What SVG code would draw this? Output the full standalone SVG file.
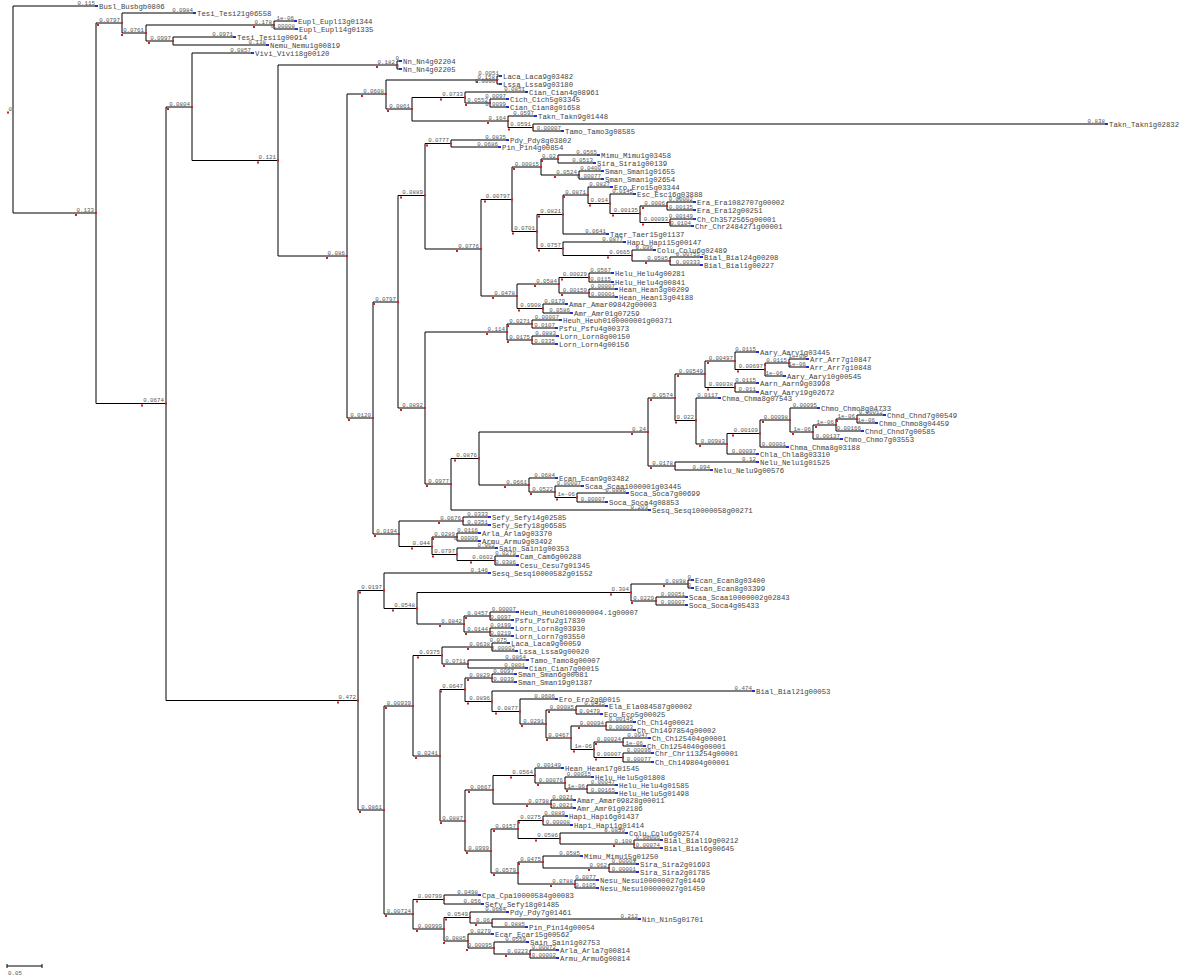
<svg xmlns="http://www.w3.org/2000/svg" width="1200" height="976" viewBox="0 0 1200 976">
<style>
.e{fill:none;stroke:#000;stroke-width:1}
.b{font-family:"Liberation Mono",monospace;font-size:5.8px;fill:#555;text-anchor:end}
.n{font-family:"Liberation Mono",monospace;font-size:7.3px;fill:#444}
.lf{fill:#1f2fd0}
.rd{fill:#d02020}
</style>
<rect width="1200" height="976" fill="#fff"/>
<g id="connectors" class="e">
<path d="M13 109.5V6H97M13 109.5V213H96M96 213V23H122M96 213V403.5H166M122 23V13H195M122 23V33H146M146 33V25H274M146 33V41H173M274 25V21H296M274 25V29H297M173 41V37H235M173 41V45H268"/>
<path d="M166 403.5V107H192M166 403.5V700.5H358M192 107V53H253M192 107V160.5H278M278 160.5V65H397M278 160.5V256H347M397 65V61H401M397 65V69H401"/>
<path d="M347 256V94H386M347 256V418H373M386 94V80H497M386 94V109H412M497 80V76H501M497 80V84H501M412 109V97.5H465M412 109V121H508M465 97.5V92H527M465 97.5V103H490M490 103V99H508M490 103V107H508M508 121V116H536M508 121V127.5H533M533 127.5V124H1107M533 127.5V131H563"/>
<path d="M373 418V302H398M373 418V534H399M398 302V195.5H425M398 302V408H425M425 195.5V143.5H451M425 195.5V249H481M451 143.5V140H508M451 143.5V147H500"/>
<path d="M481 249V199.5H512M481 249V296H517M512 199.5V167H541M512 199.5V231.5H537M541 167V159H558M541 167V175H579M558 159V155H599M558 159V163H595M579 175V171H603M579 175V179H603"/>
<path d="M537 231.5V214.5H563M537 231.5V248.5H563M563 214.5V195H588M563 214.5V234H608M588 195V187H612M588 195V203.5H610M610 203.5V194H635M610 203.5V213.5H640M640 213.5V206H667M640 213.5V222.5H670M667 206V202H695M667 206V210H695M670 222.5V219H695M670 222.5V226H693"/>
<path d="M563 248.5V242H625M563 248.5V255.5H632M632 255.5V250H655M632 255.5V261H670M670 261V257H702M670 261V265H702"/>
<path d="M517 296V284H559M517 296V308.5H543M559 284V277.5H589M559 284V293H589M589 277.5V273H613M589 277.5V282H613M589 293V289H617M589 293V297H617M543 308.5V304H567M543 308.5V313H572"/>
<path d="M425 408V332H507M425 408V484H451M507 332V324H532M507 332V340H532M532 324V320H561M532 324V328H557M532 340V336H558M532 340V344H557"/>
<path d="M451 484V458.5H479M451 484V510H650M479 458.5V432H648M479 458.5V485H529M648 432V398H675M648 432V466H675M675 398V374H705M675 398V420.5H696M705 374V361H735M705 374V387.5H735M735 361V352H758M735 361V369.5H765M765 369.5V363H789M765 369.5V376H785M789 363V359H808M789 363V367H808M735 387.5V383H758M735 387.5V392H758"/>
<path d="M696 420.5V398H720M696 420.5V444H727M727 444V433.5H760M727 444V454H758M760 433.5V420H790M760 433.5V447H788M790 420V408H819M790 420V432H813M813 432V425H836M813 432V439H842M836 425V419H857M836 425V431H863M857 419V415H885M857 419V423H877"/>
<path d="M675 466V462H758M675 466V470H712M529 485V478H557M529 485V492H555M555 492V486H583M555 492V497.5H577M577 497.5V493H628M577 497.5V502H607"/>
<path d="M399 534V521H463M399 534V546.5H432M463 521V517H490M463 521V525H490M432 546.5V537H457M432 546.5V554.5H457M457 537V533H480M457 537V541H480M457 554.5V548H497M457 554.5V560.5H495M495 560.5V556H518M495 560.5V565H518"/>
<path d="M358 700.5V590.5H384M358 700.5V810H384M384 590.5V573H490M384 590.5V608.5H417M417 608.5V592.5H631M417 608.5V624H464M631 592.5V584H688M631 592.5V601H656M688 584V580H693M688 584V588H693M656 601V597H687M656 601V605H687M464 624V616H490M464 624V632H490M490 616V612H518M490 616V620H513M490 632V628H513M490 632V636H513"/>
<path d="M384 810V706H413M384 810V914H413M413 706V655.5H442M413 706V756H440M442 655.5V647H492M442 655.5V664H468M492 647V643H509M492 647V651H517M468 664V660H528M468 664V668H527"/>
<path d="M440 756V689.5H465M440 756V821H465M465 689.5V678H492M465 689.5V701.5H492M492 678V674H516M492 678V682H516M492 701.5V691H754M492 701.5V711.5H520M520 711.5V699H557M520 711.5V724H546M546 724V710H576M546 724V738H571M576 710V706H607M576 710V714H602"/>
<path d="M571 738V726H606M571 738V749.5H594M606 726V722H635M606 726V730H635M594 749.5V742H623M594 749.5V757.5H623M623 742V738H650M623 742V746H645M623 757.5V753H653M623 757.5V762H653"/>
<path d="M465 821V790H493M465 821V851H491M493 790V775.5H535M493 790V804H551M535 775.5V768H563M535 775.5V783H565M565 783V777H593M565 783V789H587M587 789V785H617M587 789V793H617M551 804V800H575M551 804V808H575"/>
<path d="M491 851V829H518M491 851V873H518M518 829V820.5H543M518 829V838.5H560M543 820.5V816H567M543 820.5V825H572M560 838.5V833H627M560 838.5V844H634M634 844V840H662M634 844V848H662"/>
<path d="M518 873V862H543M518 873V884H575M543 862V856H582M543 862V868H609M609 868V864H638M609 868V872H638M575 884V880H598M575 884V888H598"/>
<path d="M413 914V899.5H444M413 914V929H444M444 899.5V895H480M444 899.5V904H483M444 929V917.5H470M444 929V941H468M470 917.5V912H508M470 917.5V923H492M492 923V919H640M492 923V927H527M468 941V934H493M468 941V948H494M494 948V942H528M494 948V954H530M530 954V950H558M530 954V958H558"/>
</g>
<g id="scale-bar"><path class="e" d="M7 966H42M7 964V968M42 964V968"/><text class="b" x="8" y="975" style="text-anchor:start">0.05</text></g>
<g id="internal-nodes">
<g id="n-root"><text class="b" x="12" y="111">0</text><rect class="rd" x="7" y="111.5" width="2" height="2"/></g>
<g id="n96"><rect class="rd" x="95" y="212" width="2" height="2"/><rect class="rd" x="75" y="214" width="2" height="2"/><text class="b" x="94" y="211.5">0.133</text></g>
<g id="n122"><rect class="rd" x="121" y="22" width="2" height="2"/><rect class="rd" x="97" y="24" width="2" height="2"/><text class="b" x="120" y="21.5">0.0797</text></g>
<g id="n146"><rect class="rd" x="145" y="32" width="2" height="2"/><rect class="rd" x="121" y="34" width="2" height="2"/><text class="b" x="144" y="31.5">0.0761</text></g>
<g id="n274"><rect class="rd" x="273" y="24" width="2" height="2"/><rect class="rd" x="253" y="26" width="2" height="2"/><text class="b" x="272" y="23.5">0.178</text></g>
<g id="n173"><rect class="rd" x="172" y="40" width="2" height="2"/><rect class="rd" x="148" y="42" width="2" height="2"/><text class="b" x="171" y="39.5">0.0997</text></g>
<g id="n166"><rect class="rd" x="165" y="402.5" width="2" height="2"/><rect class="rd" x="141" y="404.5" width="2" height="2"/><text class="b" x="164" y="402">0.0674</text></g>
<g id="n192"><rect class="rd" x="191" y="106" width="2" height="2"/><rect class="rd" x="167" y="108" width="2" height="2"/><text class="b" x="190" y="105.5">0.0804</text></g>
<g id="n278"><rect class="rd" x="277" y="159.5" width="2" height="2"/><rect class="rd" x="257" y="161.5" width="2" height="2"/><text class="b" x="276" y="159">0.121</text></g>
<g id="n397"><rect class="rd" x="396" y="64" width="2" height="2"/><rect class="rd" x="376" y="66" width="2" height="2"/><text class="b" x="395" y="63.5">0.182</text></g>
<g id="n347"><rect class="rd" x="346" y="255" width="2" height="2"/><rect class="rd" x="326" y="257" width="2" height="2"/><text class="b" x="345" y="254.5">0.086</text></g>
<g id="n386"><rect class="rd" x="385" y="93" width="2" height="2"/><rect class="rd" x="361" y="95" width="2" height="2"/><text class="b" x="384" y="92.5">0.0608</text></g>
<g id="n497"><rect class="rd" x="496" y="79" width="2" height="2"/><rect class="rd" x="476" y="81" width="2" height="2"/><text class="b" x="495" y="78.5">0.158</text></g>
<g id="n412"><rect class="rd" x="411" y="108" width="2" height="2"/><rect class="rd" x="387" y="110" width="2" height="2"/><text class="b" x="410" y="107.5">0.0861</text></g>
<g id="n465"><rect class="rd" x="464" y="96.5" width="2" height="2"/><rect class="rd" x="440" y="98.5" width="2" height="2"/><text class="b" x="463" y="96">0.0733</text></g>
<g id="n490"><rect class="rd" x="489" y="102" width="2" height="2"/><rect class="rd" x="465" y="104" width="2" height="2"/><text class="b" x="488" y="101.5">0.0552</text></g>
<g id="n508"><rect class="rd" x="507" y="120" width="2" height="2"/><rect class="rd" x="487" y="122" width="2" height="2"/><text class="b" x="506" y="119.5">0.164</text></g>
<g id="n533"><rect class="rd" x="532" y="126.5" width="2" height="2"/><rect class="rd" x="508" y="128.5" width="2" height="2"/><text class="b" x="531" y="126">0.0591</text></g>
<g id="n373"><rect class="rd" x="372" y="417" width="2" height="2"/><rect class="rd" x="348" y="419" width="2" height="2"/><text class="b" x="371" y="416.5">0.0120</text></g>
<g id="n398"><rect class="rd" x="397" y="301" width="2" height="2"/><rect class="rd" x="373" y="303" width="2" height="2"/><text class="b" x="396" y="300.5">0.0797</text></g>
<g id="nE"><rect class="rd" x="424" y="194.5" width="2" height="2"/><rect class="rd" x="400" y="196.5" width="2" height="2"/><text class="b" x="423" y="194">0.0889</text></g>
<g id="nF"><rect class="rd" x="450" y="142.5" width="2" height="2"/><rect class="rd" x="426" y="144.5" width="2" height="2"/><text class="b" x="449" y="142">0.0777</text></g>
<g id="nG"><rect class="rd" x="480" y="248" width="2" height="2"/><rect class="rd" x="456" y="250" width="2" height="2"/><text class="b" x="479" y="247.5">0.0776</text></g>
<g id="nH"><rect class="rd" x="511" y="198.5" width="2" height="2"/><rect class="rd" x="484" y="200.5" width="2" height="2"/><text class="b" x="510" y="198">0.00797</text></g>
<g id="nI"><rect class="rd" x="540" y="166" width="2" height="2"/><rect class="rd" x="513" y="168" width="2" height="2"/><text class="b" x="539" y="165.5">0.00015</text></g>
<g id="nJ"><rect class="rd" x="557" y="158" width="2" height="2"/><rect class="rd" x="541" y="160" width="2" height="2"/><text class="b" x="556" y="157.5">0.02</text></g>
<g id="nK"><rect class="rd" x="578" y="174" width="2" height="2"/><rect class="rd" x="554" y="176" width="2" height="2"/><text class="b" x="577" y="173.5">0.0524</text></g>
<g id="nL"><rect class="rd" x="536" y="230.5" width="2" height="2"/><rect class="rd" x="512" y="232.5" width="2" height="2"/><text class="b" x="535" y="230">0.0701</text></g>
<g id="nM"><rect class="rd" x="562" y="213.5" width="2" height="2"/><rect class="rd" x="538" y="215.5" width="2" height="2"/><text class="b" x="561" y="213">0.0821</text></g>
<g id="nN"><rect class="rd" x="587" y="194" width="2" height="2"/><rect class="rd" x="563" y="196" width="2" height="2"/><text class="b" x="586" y="193.5">0.0871</text></g>
<g id="nO"><rect class="rd" x="609" y="202.5" width="2" height="2"/><rect class="rd" x="589" y="204.5" width="2" height="2"/><text class="b" x="608" y="202">0.014</text></g>
<g id="nP"><rect class="rd" x="639" y="212.5" width="2" height="2"/><rect class="rd" x="612" y="214.5" width="2" height="2"/><text class="b" x="638" y="212">0.00135</text></g>
<g id="nQ"><rect class="rd" x="666" y="205" width="2" height="2"/><rect class="rd" x="642" y="207" width="2" height="2"/><text class="b" x="665" y="204.5">0.0006</text></g>
<g id="nR"><rect class="rd" x="669" y="221.5" width="2" height="2"/><rect class="rd" x="642" y="223.5" width="2" height="2"/><text class="b" x="668" y="221">0.00093</text></g>
<g id="nS"><rect class="rd" x="562" y="247.5" width="2" height="2"/><rect class="rd" x="538" y="249.5" width="2" height="2"/><text class="b" x="561" y="247">0.0757</text></g>
<g id="nT"><rect class="rd" x="631" y="254.5" width="2" height="2"/><rect class="rd" x="607" y="256.5" width="2" height="2"/><text class="b" x="630" y="254">0.0665</text></g>
<g id="nU"><rect class="rd" x="669" y="260" width="2" height="2"/><rect class="rd" x="645" y="262" width="2" height="2"/><text class="b" x="668" y="259.5">0.0585</text></g>
<g id="nV"><rect class="rd" x="516" y="295" width="2" height="2"/><rect class="rd" x="492" y="297" width="2" height="2"/><text class="b" x="515" y="294.5">0.0478</text></g>
<g id="nW"><rect class="rd" x="558" y="283" width="2" height="2"/><rect class="rd" x="534" y="285" width="2" height="2"/><text class="b" x="557" y="282.5">0.0584</text></g>
<g id="nX"><rect class="rd" x="588" y="276.5" width="2" height="2"/><rect class="rd" x="561" y="278.5" width="2" height="2"/><text class="b" x="587" y="276">0.00029</text></g>
<g id="nY"><rect class="rd" x="588" y="292" width="2" height="2"/><rect class="rd" x="561" y="294" width="2" height="2"/><text class="b" x="587" y="291.5">0.00159</text></g>
<g id="nZ"><rect class="rd" x="542" y="307.5" width="2" height="2"/><rect class="rd" x="518" y="309.5" width="2" height="2"/><text class="b" x="541" y="307">0.0908</text></g>
<g id="nAA"><rect class="rd" x="424" y="407" width="2" height="2"/><rect class="rd" x="400" y="409" width="2" height="2"/><text class="b" x="423" y="406.5">0.0892</text></g>
<g id="nAB"><rect class="rd" x="506" y="331" width="2" height="2"/><rect class="rd" x="486" y="333" width="2" height="2"/><text class="b" x="505" y="330.5">0.114</text></g>
<g id="nAC"><rect class="rd" x="531" y="323" width="2" height="2"/><rect class="rd" x="507" y="325" width="2" height="2"/><text class="b" x="530" y="322.5">0.0271</text></g>
<g id="nAD"><rect class="rd" x="531" y="339" width="2" height="2"/><rect class="rd" x="507" y="341" width="2" height="2"/><text class="b" x="530" y="338.5">0.0175</text></g>
<g id="nAE"><rect class="rd" x="450" y="483" width="2" height="2"/><rect class="rd" x="426" y="485" width="2" height="2"/><text class="b" x="449" y="482.5">0.0977</text></g>
<g id="nAF"><rect class="rd" x="478" y="457.5" width="2" height="2"/><rect class="rd" x="454" y="459.5" width="2" height="2"/><text class="b" x="477" y="457">0.0876</text></g>
<g id="nAG"><rect class="rd" x="647" y="431" width="2" height="2"/><rect class="rd" x="631" y="433" width="2" height="2"/><text class="b" x="646" y="430.5">0.24</text></g>
<g id="nAH"><rect class="rd" x="674" y="397" width="2" height="2"/><rect class="rd" x="650" y="399" width="2" height="2"/><text class="b" x="673" y="396.5">0.0574</text></g>
<g id="nAI"><rect class="rd" x="704" y="373" width="2" height="2"/><rect class="rd" x="677" y="375" width="2" height="2"/><text class="b" x="703" y="372.5">0.00549</text></g>
<g id="nAJ"><rect class="rd" x="734" y="360" width="2" height="2"/><rect class="rd" x="707" y="362" width="2" height="2"/><text class="b" x="733" y="359.5">0.00497</text></g>
<g id="nAK"><rect class="rd" x="764" y="368.5" width="2" height="2"/><rect class="rd" x="737" y="370.5" width="2" height="2"/><text class="b" x="763" y="368">0.00697</text></g>
<g id="nAL"><rect class="rd" x="788" y="362" width="2" height="2"/><rect class="rd" x="764" y="364" width="2" height="2"/><text class="b" x="787" y="361.5">0.0115</text></g>
<g id="nAM"><rect class="rd" x="734" y="386.5" width="2" height="2"/><rect class="rd" x="707" y="388.5" width="2" height="2"/><text class="b" x="733" y="386">0.00038</text></g>
<g id="nAN"><rect class="rd" x="695" y="419.5" width="2" height="2"/><rect class="rd" x="675" y="421.5" width="2" height="2"/><text class="b" x="694" y="419">0.022</text></g>
<g id="nAO"><rect class="rd" x="726" y="443" width="2" height="2"/><rect class="rd" x="699" y="445" width="2" height="2"/><text class="b" x="725" y="442.5">0.00983</text></g>
<g id="nAP"><rect class="rd" x="759" y="432.5" width="2" height="2"/><rect class="rd" x="732" y="434.5" width="2" height="2"/><text class="b" x="758" y="432">0.00109</text></g>
<g id="nAQ"><rect class="rd" x="789" y="419" width="2" height="2"/><rect class="rd" x="762" y="421" width="2" height="2"/><text class="b" x="788" y="418.5">0.00098</text></g>
<g id="nAR"><rect class="rd" x="812" y="431" width="2" height="2"/><rect class="rd" x="792" y="433" width="2" height="2"/><text class="b" x="811" y="430.5">1e-06</text></g>
<g id="nAS"><rect class="rd" x="835" y="424" width="2" height="2"/><rect class="rd" x="815" y="426" width="2" height="2"/><text class="b" x="834" y="423.5">1e-06</text></g>
<g id="nAT"><rect class="rd" x="856" y="418" width="2" height="2"/><rect class="rd" x="836" y="420" width="2" height="2"/><text class="b" x="855" y="417.5">1e-06</text></g>
<g id="nAU"><rect class="rd" x="674" y="465" width="2" height="2"/><rect class="rd" x="650" y="467" width="2" height="2"/><text class="b" x="673" y="464.5">0.0178</text></g>
<g id="nAV"><rect class="rd" x="528" y="484" width="2" height="2"/><rect class="rd" x="504" y="486" width="2" height="2"/><text class="b" x="527" y="483.5">0.0661</text></g>
<g id="nAW"><rect class="rd" x="554" y="491" width="2" height="2"/><rect class="rd" x="530" y="493" width="2" height="2"/><text class="b" x="553" y="490.5">0.0522</text></g>
<g id="nAX"><rect class="rd" x="576" y="496.5" width="2" height="2"/><rect class="rd" x="556" y="498.5" width="2" height="2"/><text class="b" x="575" y="496">1e-06</text></g>
<g id="nD"><rect class="rd" x="398" y="533" width="2" height="2"/><rect class="rd" x="374" y="535" width="2" height="2"/><text class="b" x="397" y="532.5">0.0194</text></g>
<g id="n463"><rect class="rd" x="462" y="520" width="2" height="2"/><rect class="rd" x="438" y="522" width="2" height="2"/><text class="b" x="461" y="519.5">0.0676</text></g>
<g id="n432"><rect class="rd" x="431" y="545.5" width="2" height="2"/><rect class="rd" x="411" y="547.5" width="2" height="2"/><text class="b" x="430" y="545">0.044</text></g>
<g id="n457a"><rect class="rd" x="456" y="536" width="2" height="2"/><rect class="rd" x="432" y="538" width="2" height="2"/><text class="b" x="455" y="535.5">0.0289</text></g>
<g id="n457b"><rect class="rd" x="456" y="553.5" width="2" height="2"/><rect class="rd" x="432" y="555.5" width="2" height="2"/><text class="b" x="455" y="553">0.0797</text></g>
<g id="n495"><rect class="rd" x="494" y="559.5" width="2" height="2"/><rect class="rd" x="470" y="561.5" width="2" height="2"/><text class="b" x="493" y="559">0.0602</text></g>
<g id="n358"><rect class="rd" x="357" y="699.5" width="2" height="2"/><rect class="rd" x="337" y="701.5" width="2" height="2"/><text class="b" x="356" y="699">0.472</text></g>
<g id="nBA"><rect class="rd" x="383" y="589.5" width="2" height="2"/><rect class="rd" x="359" y="591.5" width="2" height="2"/><text class="b" x="382" y="589">0.0197</text></g>
<g id="nBB"><rect class="rd" x="416" y="607.5" width="2" height="2"/><rect class="rd" x="392" y="609.5" width="2" height="2"/><text class="b" x="415" y="607">0.0548</text></g>
<g id="nBC"><rect class="rd" x="630" y="591.5" width="2" height="2"/><rect class="rd" x="610" y="593.5" width="2" height="2"/><text class="b" x="629" y="591">0.304</text></g>
<g id="nBD"><rect class="rd" x="687" y="583" width="2" height="2"/><rect class="rd" x="663" y="585" width="2" height="2"/><text class="b" x="686" y="582.5">0.0898</text></g>
<g id="nBE"><rect class="rd" x="655" y="600" width="2" height="2"/><rect class="rd" x="631" y="602" width="2" height="2"/><text class="b" x="654" y="599.5">0.0229</text></g>
<g id="nBF"><rect class="rd" x="463" y="623" width="2" height="2"/><rect class="rd" x="439" y="625" width="2" height="2"/><text class="b" x="462" y="622.5">0.0842</text></g>
<g id="nBG"><rect class="rd" x="489" y="615" width="2" height="2"/><rect class="rd" x="465" y="617" width="2" height="2"/><text class="b" x="488" y="614.5">0.0457</text></g>
<g id="nBH"><rect class="rd" x="489" y="631" width="2" height="2"/><rect class="rd" x="465" y="633" width="2" height="2"/><text class="b" x="488" y="630.5">0.0144</text></g>
<g id="nBI"><rect class="rd" x="383" y="809" width="2" height="2"/><rect class="rd" x="359" y="811" width="2" height="2"/><text class="b" x="382" y="808.5">0.0861</text></g>
<g id="nBJ"><rect class="rd" x="412" y="705" width="2" height="2"/><rect class="rd" x="385" y="707" width="2" height="2"/><text class="b" x="411" y="704.5">0.00939</text></g>
<g id="nBK"><rect class="rd" x="441" y="654.5" width="2" height="2"/><rect class="rd" x="417" y="656.5" width="2" height="2"/><text class="b" x="440" y="654">0.0375</text></g>
<g id="nBL"><rect class="rd" x="491" y="646" width="2" height="2"/><rect class="rd" x="467" y="648" width="2" height="2"/><text class="b" x="490" y="645.5">0.0638</text></g>
<g id="nBM"><rect class="rd" x="467" y="663" width="2" height="2"/><rect class="rd" x="443" y="665" width="2" height="2"/><text class="b" x="466" y="662.5">0.0711</text></g>
<g id="nBN"><rect class="rd" x="439" y="755" width="2" height="2"/><rect class="rd" x="415" y="757" width="2" height="2"/><text class="b" x="438" y="754.5">0.0241</text></g>
<g id="nBO"><rect class="rd" x="464" y="688.5" width="2" height="2"/><rect class="rd" x="440" y="690.5" width="2" height="2"/><text class="b" x="463" y="688">0.0647</text></g>
<g id="nBP"><rect class="rd" x="491" y="677" width="2" height="2"/><rect class="rd" x="467" y="679" width="2" height="2"/><text class="b" x="490" y="676.5">0.0829</text></g>
<g id="nBQ"><rect class="rd" x="491" y="700.5" width="2" height="2"/><rect class="rd" x="467" y="702.5" width="2" height="2"/><text class="b" x="490" y="700">0.0896</text></g>
<g id="nBR"><rect class="rd" x="519" y="710.5" width="2" height="2"/><rect class="rd" x="495" y="712.5" width="2" height="2"/><text class="b" x="518" y="710">0.0877</text></g>
<g id="nBS"><rect class="rd" x="545" y="723" width="2" height="2"/><rect class="rd" x="521" y="725" width="2" height="2"/><text class="b" x="544" y="722.5">0.0291</text></g>
<g id="nBT"><rect class="rd" x="575" y="709" width="2" height="2"/><rect class="rd" x="548" y="711" width="2" height="2"/><text class="b" x="574" y="708.5">0.00085</text></g>
<g id="nBU"><rect class="rd" x="570" y="737" width="2" height="2"/><rect class="rd" x="546" y="739" width="2" height="2"/><text class="b" x="569" y="736.5">0.0467</text></g>
<g id="nBV"><rect class="rd" x="605" y="725" width="2" height="2"/><rect class="rd" x="578" y="727" width="2" height="2"/><text class="b" x="604" y="724.5">0.00094</text></g>
<g id="nBW"><rect class="rd" x="593" y="748.5" width="2" height="2"/><rect class="rd" x="573" y="750.5" width="2" height="2"/><text class="b" x="592" y="748">1e-06</text></g>
<g id="nBX"><rect class="rd" x="622" y="741" width="2" height="2"/><rect class="rd" x="595" y="743" width="2" height="2"/><text class="b" x="621" y="740.5">0.00024</text></g>
<g id="nBY"><rect class="rd" x="622" y="756.5" width="2" height="2"/><rect class="rd" x="595" y="758.5" width="2" height="2"/><text class="b" x="621" y="756">0.00007</text></g>
<g id="nBZ"><rect class="rd" x="464" y="820" width="2" height="2"/><rect class="rd" x="440" y="822" width="2" height="2"/><text class="b" x="463" y="819.5">0.0887</text></g>
<g id="nCA"><rect class="rd" x="492" y="789" width="2" height="2"/><rect class="rd" x="468" y="791" width="2" height="2"/><text class="b" x="491" y="788.5">0.0667</text></g>
<g id="nCB"><rect class="rd" x="534" y="774.5" width="2" height="2"/><rect class="rd" x="510" y="776.5" width="2" height="2"/><text class="b" x="533" y="774">0.0564</text></g>
<g id="nCC"><rect class="rd" x="564" y="782" width="2" height="2"/><rect class="rd" x="537" y="784" width="2" height="2"/><text class="b" x="563" y="781.5">0.00076</text></g>
<g id="nCD"><rect class="rd" x="586" y="788" width="2" height="2"/><rect class="rd" x="566" y="790" width="2" height="2"/><text class="b" x="585" y="787.5">1e-06</text></g>
<g id="nCE"><rect class="rd" x="550" y="803" width="2" height="2"/><rect class="rd" x="526" y="805" width="2" height="2"/><text class="b" x="549" y="802.5">0.0798</text></g>
<g id="nCF"><rect class="rd" x="490" y="850" width="2" height="2"/><rect class="rd" x="466" y="852" width="2" height="2"/><text class="b" x="489" y="849.5">0.0999</text></g>
<g id="nCG"><rect class="rd" x="517" y="828" width="2" height="2"/><rect class="rd" x="493" y="830" width="2" height="2"/><text class="b" x="516" y="827.5">0.0157</text></g>
<g id="nCH"><rect class="rd" x="542" y="819.5" width="2" height="2"/><rect class="rd" x="518" y="821.5" width="2" height="2"/><text class="b" x="541" y="819">0.0275</text></g>
<g id="nCI"><rect class="rd" x="559" y="837.5" width="2" height="2"/><rect class="rd" x="535" y="839.5" width="2" height="2"/><text class="b" x="558" y="837">0.0586</text></g>
<g id="nCJ"><rect class="rd" x="633" y="843" width="2" height="2"/><rect class="rd" x="613" y="845" width="2" height="2"/><text class="b" x="632" y="842.5">0.108</text></g>
<g id="nCK"><rect class="rd" x="517" y="872" width="2" height="2"/><rect class="rd" x="493" y="874" width="2" height="2"/><text class="b" x="516" y="871.5">0.0579</text></g>
<g id="nCL"><rect class="rd" x="542" y="861" width="2" height="2"/><rect class="rd" x="518" y="863" width="2" height="2"/><text class="b" x="541" y="860.5">0.0475</text></g>
<g id="nCM"><rect class="rd" x="608" y="867" width="2" height="2"/><rect class="rd" x="588" y="869" width="2" height="2"/><text class="b" x="607" y="866.5">0.062</text></g>
<g id="nCN"><rect class="rd" x="574" y="883" width="2" height="2"/><rect class="rd" x="550" y="885" width="2" height="2"/><text class="b" x="573" y="882.5">0.0788</text></g>
<g id="nCO"><rect class="rd" x="412" y="913" width="2" height="2"/><rect class="rd" x="385" y="915" width="2" height="2"/><text class="b" x="411" y="912.5">0.00724</text></g>
<g id="nCP"><rect class="rd" x="443" y="898.5" width="2" height="2"/><rect class="rd" x="416" y="900.5" width="2" height="2"/><text class="b" x="442" y="898">0.00799</text></g>
<g id="nCQ"><rect class="rd" x="443" y="928" width="2" height="2"/><rect class="rd" x="416" y="930" width="2" height="2"/><text class="b" x="442" y="927.5">0.00999</text></g>
<g id="nCR"><rect class="rd" x="469" y="916.5" width="2" height="2"/><rect class="rd" x="445" y="918.5" width="2" height="2"/><text class="b" x="468" y="916">0.0549</text></g>
<g id="nCS"><rect class="rd" x="491" y="922" width="2" height="2"/><rect class="rd" x="475" y="924" width="2" height="2"/><text class="b" x="490" y="921.5">0.06</text></g>
<g id="nCT"><rect class="rd" x="467" y="940" width="2" height="2"/><rect class="rd" x="443" y="942" width="2" height="2"/><text class="b" x="466" y="939.5">0.0885</text></g>
<g id="nCU"><rect class="rd" x="493" y="947" width="2" height="2"/><rect class="rd" x="466" y="949" width="2" height="2"/><text class="b" x="492" y="946.5">0.00095</text></g>
<g id="nCV"><rect class="rd" x="529" y="953" width="2" height="2"/><rect class="rd" x="505" y="955" width="2" height="2"/><text class="b" x="528" y="952.5">0.0223</text></g>
</g>
<g id="leaves">
<g id="t-Busl"><text class="b" x="95" y="4.5">0.115</text><rect class="lf" x="95" y="5" width="3" height="2"/><text class="n" x="99" y="8.5">Busl_Busbgb0806</text></g>
<g id="t-Tesi21"><text class="b" x="193" y="11.5">0.0984</text><rect class="lf" x="193" y="12" width="3" height="2"/><text class="n" x="197" y="15.5">Tesi_Tesi21g06558</text></g>
<g id="t-Eupl13"><text class="b" x="294" y="19.5">1e-06</text><rect class="lf" x="294" y="20" width="3" height="2"/><text class="n" x="298" y="23.5">Eupl_Eupl13g01344</text></g>
<g id="t-Eupl14"><text class="b" x="295" y="27.5">0.00008</text><rect class="lf" x="295" y="28" width="3" height="2"/><text class="n" x="299" y="31.5">Eupl_Eupl14g01335</text></g>
<g id="t-Tesi1"><text class="b" x="233" y="35.5">0.0971</text><rect class="lf" x="233" y="36" width="3" height="2"/><text class="n" x="237" y="39.5">Tesi_Tesi1g00914</text></g>
<g id="t-Nemu"><text class="b" x="266" y="43.5">0.138</text><rect class="lf" x="266" y="44" width="3" height="2"/><text class="n" x="270" y="47.5">Nemu_Nemu1g00819</text></g>
<g id="t-Vivi"><text class="b" x="251" y="51.5">0.0857</text><rect class="lf" x="251" y="52" width="3" height="2"/><text class="n" x="255" y="55.5">Vivi_Vivi18g00120</text></g>
<g id="t-Nn1"><text class="b" x="399" y="59.5">0</text><rect class="lf" x="399" y="60" width="3" height="2"/><text class="n" x="403" y="63.5">Nn_Nn4g02204</text></g>
<g id="t-Nn2"><text class="b" x="399" y="67.5">0</text><rect class="lf" x="399" y="68" width="3" height="2"/><text class="n" x="403" y="71.5">Nn_Nn4g02205</text></g>
<g id="t-Laca"><text class="b" x="499" y="74.5">0.0051</text><rect class="lf" x="499" y="75" width="3" height="2"/><text class="n" x="503" y="78.5">Laca_Laca9g03482</text></g>
<g id="t-Lssa"><text class="b" x="499" y="82.5">0.00007</text><rect class="lf" x="499" y="83" width="3" height="2"/><text class="n" x="503" y="86.5">Lssa_Lssa9g03180</text></g>
<g id="t-Cian4"><text class="b" x="525" y="90.5">0.0851</text><rect class="lf" x="525" y="91" width="3" height="2"/><text class="n" x="529" y="94.5">Cian_Cian4g08961</text></g>
<g id="t-Cich"><text class="b" x="506" y="97.5">0.0097</text><rect class="lf" x="506" y="98" width="3" height="2"/><text class="n" x="510" y="101.5">Cich_Cich5g03345</text></g>
<g id="t-Cian8"><text class="b" x="506" y="105.5">0.0099</text><rect class="lf" x="506" y="106" width="3" height="2"/><text class="n" x="510" y="109.5">Cian_Cian8g01658</text></g>
<g id="t-Takn9"><text class="b" x="534" y="114.5">0.0597</text><rect class="lf" x="534" y="115" width="3" height="2"/><text class="n" x="538" y="118.5">Takn_Takn9g01448</text></g>
<g id="t-Takn1"><text class="b" x="1105" y="122.5">0.838</text><rect class="lf" x="1105" y="123" width="3" height="2"/><text class="n" x="1109" y="126.5">Takn_Takn1g02832</text></g>
<g id="t-Tamo3"><text class="b" x="561" y="129.5">0.00007</text><rect class="lf" x="561" y="130" width="3" height="2"/><text class="n" x="565" y="133.5">Tamo_Tamo3g08585</text></g>
<g id="t-Pdy8"><text class="b" x="506" y="138.5">0.0835</text><rect class="lf" x="506" y="139" width="3" height="2"/><text class="n" x="510" y="142.5">Pdy_Pdy8g03802</text></g>
<g id="t-Pin4"><text class="b" x="498" y="145.5">0.0686</text><rect class="lf" x="498" y="146" width="3" height="2"/><text class="n" x="502" y="149.5">Pin_Pin4g00854</text></g>
<g id="t-Mimu1"><text class="b" x="597" y="153.5">0.0565</text><rect class="lf" x="597" y="154" width="3" height="2"/><text class="n" x="601" y="157.5">Mimu_Mimu1g03458</text></g>
<g id="t-Sira1"><text class="b" x="593" y="161.5">0.0513</text><rect class="lf" x="593" y="162" width="3" height="2"/><text class="n" x="597" y="165.5">Sira_Sira1g00139</text></g>
<g id="t-Sman1a"><text class="b" x="601" y="169.5">0.0400</text><rect class="lf" x="601" y="170" width="3" height="2"/><text class="n" x="605" y="173.5">Sman_Sman1g01655</text></g>
<g id="t-Sman1b"><text class="b" x="601" y="177.5">0.00077</text><rect class="lf" x="601" y="178" width="3" height="2"/><text class="n" x="605" y="181.5">Sman_Sman1g02654</text></g>
<g id="t-Ero15"><text class="b" x="610" y="185.5">0.0827</text><rect class="lf" x="610" y="186" width="3" height="2"/><text class="n" x="614" y="189.5">Ero_Ero15g03344</text></g>
<g id="t-Esc16"><text class="b" x="633" y="192.5">0.0145</text><rect class="lf" x="633" y="193" width="3" height="2"/><text class="n" x="637" y="196.5">Esc_Esc16g03888</text></g>
<g id="t-Era1"><text class="b" x="693" y="200.5">0.00002</text><rect class="lf" x="693" y="201" width="3" height="2"/><text class="n" x="697" y="204.5">Era_Era1082707g00002</text></g>
<g id="t-Era12"><text class="b" x="693" y="208.5">0.00135</text><rect class="lf" x="693" y="209" width="3" height="2"/><text class="n" x="697" y="212.5">Era_Era12g00251</text></g>
<g id="t-Ch35"><text class="b" x="693" y="217.5">0.00149</text><rect class="lf" x="693" y="218" width="3" height="2"/><text class="n" x="697" y="221.5">Ch_Ch3572565g00001</text></g>
<g id="t-Chr24"><text class="b" x="691" y="224.5">0.0104</text><rect class="lf" x="691" y="225" width="3" height="2"/><text class="n" x="695" y="228.5">Chr_Chr2484271g00001</text></g>
<g id="t-Taer"><text class="b" x="606" y="232.5">0.0641</text><rect class="lf" x="606" y="233" width="3" height="2"/><text class="n" x="610" y="236.5">Taer_Taer15g01137</text></g>
<g id="t-Hapi15"><text class="b" x="623" y="240.5">0.0877</text><rect class="lf" x="623" y="241" width="3" height="2"/><text class="n" x="627" y="244.5">Hapi_Hapi15g00147</text></g>
<g id="t-Colu6"><text class="b" x="653" y="248.5">0.096</text><rect class="lf" x="653" y="249" width="3" height="2"/><text class="n" x="657" y="252.5">Colu_Colu6g02489</text></g>
<g id="t-Bial24"><text class="b" x="700" y="255.5">0.00755</text><rect class="lf" x="700" y="256" width="3" height="2"/><text class="n" x="704" y="259.5">Bial_Bial24g00208</text></g>
<g id="t-Bial1"><text class="b" x="700" y="263.5">0.00333</text><rect class="lf" x="700" y="264" width="3" height="2"/><text class="n" x="704" y="267.5">Bial_Bial1g00227</text></g>
<g id="t-Helu4a"><text class="b" x="611" y="271.5">0.0567</text><rect class="lf" x="611" y="272" width="3" height="2"/><text class="n" x="615" y="275.5">Helu_Helu4g00281</text></g>
<g id="t-Helu4b"><text class="b" x="611" y="280.5">0.0115</text><rect class="lf" x="611" y="281" width="3" height="2"/><text class="n" x="615" y="284.5">Helu_Helu4g00841</text></g>
<g id="t-Hean3"><text class="b" x="615" y="287.5">0.00007</text><rect class="lf" x="615" y="288" width="3" height="2"/><text class="n" x="619" y="291.5">Hean_Hean3g00209</text></g>
<g id="t-Hean13"><text class="b" x="615" y="295.5">0.00001</text><rect class="lf" x="615" y="296" width="3" height="2"/><text class="n" x="619" y="299.5">Hean_Hean13g04188</text></g>
<g id="t-Amar"><text class="b" x="565" y="302.5">0.0179</text><rect class="lf" x="565" y="303" width="3" height="2"/><text class="n" x="569" y="306.5">Amar_Amar09842g00003</text></g>
<g id="t-Amr"><text class="b" x="570" y="311.5">0.0586</text><rect class="lf" x="570" y="312" width="3" height="2"/><text class="n" x="574" y="315.5">Amr_Amr01g07259</text></g>
<g id="t-Heuh01"><text class="b" x="559" y="318.5">0.00007</text><rect class="lf" x="559" y="319" width="3" height="2"/><text class="n" x="563" y="322.5">Heuh_Heuh0100000001g00371</text></g>
<g id="t-Psfu4"><text class="b" x="555" y="326.5">0.0107</text><rect class="lf" x="555" y="327" width="3" height="2"/><text class="n" x="559" y="330.5">Psfu_Psfu4g00373</text></g>
<g id="t-Lorn8"><text class="b" x="556" y="334.5">0.0883</text><rect class="lf" x="556" y="335" width="3" height="2"/><text class="n" x="560" y="338.5">Lorn_Lorn8g00150</text></g>
<g id="t-Lorn4"><text class="b" x="555" y="342.5">0.0335</text><rect class="lf" x="555" y="343" width="3" height="2"/><text class="n" x="559" y="346.5">Lorn_Lorn4g00156</text></g>
<g id="t-Aary1"><text class="b" x="756" y="350.5">0.0115</text><rect class="lf" x="756" y="351" width="3" height="2"/><text class="n" x="760" y="354.5">Aary_Aary1g03445</text></g>
<g id="t-Arr7a"><text class="b" x="806" y="357.5">1e-06</text><rect class="lf" x="806" y="358" width="3" height="2"/><text class="n" x="810" y="361.5">Arr_Arr7g10847</text></g>
<g id="t-Arr7b"><text class="b" x="806" y="365.5">1e-06</text><rect class="lf" x="806" y="366" width="3" height="2"/><text class="n" x="810" y="369.5">Arr_Arr7g10848</text></g>
<g id="t-Aary10"><text class="b" x="783" y="374.5">1e-06</text><rect class="lf" x="783" y="375" width="3" height="2"/><text class="n" x="787" y="378.5">Aary_Aary10g00545</text></g>
<g id="t-Aarn"><text class="b" x="756" y="381.5">0.0115</text><rect class="lf" x="756" y="382" width="3" height="2"/><text class="n" x="760" y="385.5">Aarn_Aarn9g03998</text></g>
<g id="t-Aary19"><text class="b" x="756" y="390.5">0.011</text><rect class="lf" x="756" y="391" width="3" height="2"/><text class="n" x="760" y="394.5">Aary_Aary19g02672</text></g>
<g id="t-Chma8a"><text class="b" x="718" y="396.5">0.0117</text><rect class="lf" x="718" y="397" width="3" height="2"/><text class="n" x="722" y="400.5">Chma_Chma8g07543</text></g>
<g id="t-Chmo8a"><text class="b" x="817" y="406.5">0.00095</text><rect class="lf" x="817" y="407" width="3" height="2"/><text class="n" x="821" y="410.5">Chmo_Chmo8g04733</text></g>
<g id="t-Chnd7a"><text class="b" x="883" y="413.5">0.00012</text><rect class="lf" x="883" y="414" width="3" height="2"/><text class="n" x="887" y="417.5">Chnd_Chnd7g00549</text></g>
<g id="t-Chmo8b"><text class="b" x="875" y="421.5">1e-06</text><rect class="lf" x="875" y="422" width="3" height="2"/><text class="n" x="879" y="425.5">Chmo_Chmo8g04459</text></g>
<g id="t-Chnd7b"><text class="b" x="861" y="429.5">0.00166</text><rect class="lf" x="861" y="430" width="3" height="2"/><text class="n" x="865" y="433.5">Chnd_Chnd7g00585</text></g>
<g id="t-Chmo7"><text class="b" x="840" y="437.5">0.00137</text><rect class="lf" x="840" y="438" width="3" height="2"/><text class="n" x="844" y="441.5">Chmo_Chmo7g03553</text></g>
<g id="t-Chma8b"><text class="b" x="786" y="445.5">0.00001</text><rect class="lf" x="786" y="446" width="3" height="2"/><text class="n" x="790" y="449.5">Chma_Chma8g03188</text></g>
<g id="t-Chla"><text class="b" x="756" y="452.5">0.00097</text><rect class="lf" x="756" y="453" width="3" height="2"/><text class="n" x="760" y="456.5">Chla_Chla8g03310</text></g>
<g id="t-Nelu1"><text class="b" x="756" y="460.5">0.12</text><rect class="lf" x="756" y="461" width="3" height="2"/><text class="n" x="760" y="464.5">Nelu_Nelu1g01525</text></g>
<g id="t-Nelu9"><text class="b" x="710" y="468.5">0.094</text><rect class="lf" x="710" y="469" width="3" height="2"/><text class="n" x="714" y="472.5">Nelu_Nelu9g00576</text></g>
<g id="t-Ecan9"><text class="b" x="555" y="476.5">0.0684</text><rect class="lf" x="555" y="477" width="3" height="2"/><text class="n" x="559" y="480.5">Ecan_Ecan9g03482</text></g>
<g id="t-Scaa1"><text class="b" x="581" y="484.5">0.00007</text><rect class="lf" x="581" y="485" width="3" height="2"/><text class="n" x="585" y="488.5">Scaa_Scaa1000001g03445</text></g>
<g id="t-Soca7"><text class="b" x="626" y="491.5">0.0886</text><rect class="lf" x="626" y="492" width="3" height="2"/><text class="n" x="630" y="495.5">Soca_Soca7g00699</text></g>
<g id="t-Soca4a"><text class="b" x="605" y="500.5">0.00007</text><rect class="lf" x="605" y="501" width="3" height="2"/><text class="n" x="609" y="504.5">Soca_Soca4g08853</text></g>
<g id="t-Sesq58"><text class="b" x="648" y="508.5">0.203</text><rect class="lf" x="648" y="509" width="3" height="2"/><text class="n" x="652" y="512.5">Sesq_Sesq10000058g00271</text></g>
<g id="t-Sefy14"><text class="b" x="488" y="515.5">0.0333</text><rect class="lf" x="488" y="516" width="3" height="2"/><text class="n" x="492" y="519.5">Sefy_Sefy14g02585</text></g>
<g id="t-Sefy18a"><text class="b" x="488" y="523.5">0.0351</text><rect class="lf" x="488" y="524" width="3" height="2"/><text class="n" x="492" y="527.5">Sefy_Sefy18g06585</text></g>
<g id="t-Arla9"><text class="b" x="478" y="531.5">0.0116</text><rect class="lf" x="478" y="532" width="3" height="2"/><text class="n" x="482" y="535.5">Arla_Arla9g03370</text></g>
<g id="t-Armu9"><text class="b" x="478" y="539.5">0.00009</text><rect class="lf" x="478" y="540" width="3" height="2"/><text class="n" x="482" y="543.5">Armu_Armu9g03492</text></g>
<g id="t-Sain1a"><text class="b" x="495" y="546.5">0.062</text><rect class="lf" x="495" y="547" width="3" height="2"/><text class="n" x="499" y="550.5">Sain_Sain1g00353</text></g>
<g id="t-Cam"><text class="b" x="516" y="554.5">0.0279</text><rect class="lf" x="516" y="555" width="3" height="2"/><text class="n" x="520" y="558.5">Cam_Cam6g00288</text></g>
<g id="t-Cesu7"><text class="b" x="516" y="563.5">0.0386</text><rect class="lf" x="516" y="564" width="3" height="2"/><text class="n" x="520" y="567.5">Cesu_Cesu7g01345</text></g>
<g id="t-Sesq582"><text class="b" x="488" y="571.5">0.146</text><rect class="lf" x="488" y="572" width="3" height="2"/><text class="n" x="492" y="575.5">Sesq_Sesq10000582g01552</text></g>
<g id="t-Ecan8a"><text class="b" x="691" y="578.5">0</text><rect class="lf" x="691" y="579" width="3" height="2"/><text class="n" x="695" y="582.5">Ecan_Ecan8g03400</text></g>
<g id="t-Ecan8b"><text class="b" x="691" y="586.5">0</text><rect class="lf" x="691" y="587" width="3" height="2"/><text class="n" x="695" y="590.5">Ecan_Ecan8g03399</text></g>
<g id="t-Scaa2"><text class="b" x="685" y="595.5">0.00051</text><rect class="lf" x="685" y="596" width="3" height="2"/><text class="n" x="689" y="599.5">Scaa_Scaa10000002g02843</text></g>
<g id="t-Soca4b"><text class="b" x="685" y="603.5">0.00007</text><rect class="lf" x="685" y="604" width="3" height="2"/><text class="n" x="689" y="607.5">Soca_Soca4g05433</text></g>
<g id="t-Heuh04"><text class="b" x="516" y="610.5">0.00007</text><rect class="lf" x="516" y="611" width="3" height="2"/><text class="n" x="520" y="614.5">Heuh_Heuh0100000004.1g00007</text></g>
<g id="t-Psfu2"><text class="b" x="511" y="618.5">0.0097</text><rect class="lf" x="511" y="619" width="3" height="2"/><text class="n" x="515" y="622.5">Psfu_Psfu2g17830</text></g>
<g id="t-Lorn8b"><text class="b" x="511" y="626.5">0.0199</text><rect class="lf" x="511" y="627" width="3" height="2"/><text class="n" x="515" y="630.5">Lorn_Lorn8g03930</text></g>
<g id="t-Lorn7"><text class="b" x="511" y="634.5">0.0219</text><rect class="lf" x="511" y="635" width="3" height="2"/><text class="n" x="515" y="638.5">Lorn_Lorn7g03550</text></g>
<g id="t-Laca9b"><text class="b" x="507" y="641.5">0.075</text><rect class="lf" x="507" y="642" width="3" height="2"/><text class="n" x="511" y="645.5">Laca_Laca9g00059</text></g>
<g id="t-Lssa9b"><text class="b" x="515" y="649.5">0.00002</text><rect class="lf" x="515" y="650" width="3" height="2"/><text class="n" x="519" y="653.5">Lssa_Lssa9g00020</text></g>
<g id="t-Tamo8"><text class="b" x="526" y="658.5">0.0864</text><rect class="lf" x="526" y="659" width="3" height="2"/><text class="n" x="530" y="662.5">Tamo_Tamo8g00007</text></g>
<g id="t-Cian7"><text class="b" x="525" y="666.5">0.0801</text><rect class="lf" x="525" y="667" width="3" height="2"/><text class="n" x="529" y="670.5">Cian_Cian7g00015</text></g>
<g id="t-Sman6"><text class="b" x="514" y="672.5">0.0097</text><rect class="lf" x="514" y="673" width="3" height="2"/><text class="n" x="518" y="676.5">Sman_Sman6g00081</text></g>
<g id="t-Sman19"><text class="b" x="514" y="680.5">0.0039</text><rect class="lf" x="514" y="681" width="3" height="2"/><text class="n" x="518" y="684.5">Sman_Sman19g01387</text></g>
<g id="t-Bial21"><text class="b" x="752" y="689.5">0.474</text><rect class="lf" x="752" y="690" width="3" height="2"/><text class="n" x="756" y="693.5">Bial_Bial21g00053</text></g>
<g id="t-Ero2"><text class="b" x="555" y="697.5">0.0606</text><rect class="lf" x="555" y="698" width="3" height="2"/><text class="n" x="559" y="701.5">Ero_Ero2g00015</text></g>
<g id="t-Ela08"><text class="b" x="605" y="704.5">0.0435</text><rect class="lf" x="605" y="705" width="3" height="2"/><text class="n" x="609" y="708.5">Ela_Ela084587g00002</text></g>
<g id="t-Eco5"><text class="b" x="600" y="712.5">0.0479</text><rect class="lf" x="600" y="713" width="3" height="2"/><text class="n" x="604" y="716.5">Eco_Eco5g00025</text></g>
<g id="t-Ch14"><text class="b" x="633" y="720.5">0.00145</text><rect class="lf" x="633" y="721" width="3" height="2"/><text class="n" x="637" y="724.5">Ch_Ch14g00021</text></g>
<g id="t-Ch1497"><text class="b" x="633" y="728.5">0.00003</text><rect class="lf" x="633" y="729" width="3" height="2"/><text class="n" x="637" y="732.5">Ch_Ch1497854g00002</text></g>
<g id="t-Ch1254a"><text class="b" x="648" y="736.5">0.0047</text><rect class="lf" x="648" y="737" width="3" height="2"/><text class="n" x="652" y="740.5">Ch_Ch125404g00001</text></g>
<g id="t-Ch1254b"><text class="b" x="643" y="744.5">1e-06</text><rect class="lf" x="643" y="745" width="3" height="2"/><text class="n" x="647" y="748.5">Ch_Ch1254040g00001</text></g>
<g id="t-Chr113"><text class="b" x="651" y="751.5">0.00096</text><rect class="lf" x="651" y="752" width="3" height="2"/><text class="n" x="655" y="755.5">Chr_Chr113254g00001</text></g>
<g id="t-Ch1498"><text class="b" x="651" y="760.5">0.00077</text><rect class="lf" x="651" y="761" width="3" height="2"/><text class="n" x="655" y="764.5">Ch_Ch149804g00001</text></g>
<g id="t-Hean17"><text class="b" x="561" y="766.5">0.00149</text><rect class="lf" x="561" y="767" width="3" height="2"/><text class="n" x="565" y="770.5">Hean_Hean17g01545</text></g>
<g id="t-Helu5a"><text class="b" x="591" y="775.5">0.00015</text><rect class="lf" x="591" y="776" width="3" height="2"/><text class="n" x="595" y="779.5">Helu_Helu5g01808</text></g>
<g id="t-Helu4c"><text class="b" x="615" y="783.5">0.00047</text><rect class="lf" x="615" y="784" width="3" height="2"/><text class="n" x="619" y="787.5">Helu_Helu4g01585</text></g>
<g id="t-Helu5b"><text class="b" x="615" y="791.5">0.00165</text><rect class="lf" x="615" y="792" width="3" height="2"/><text class="n" x="619" y="795.5">Helu_Helu5g01498</text></g>
<g id="t-Amar2"><text class="b" x="573" y="798.5">0.0021</text><rect class="lf" x="573" y="799" width="3" height="2"/><text class="n" x="577" y="802.5">Amar_Amar09828g00011</text></g>
<g id="t-Amr2"><text class="b" x="573" y="806.5">0.0021</text><rect class="lf" x="573" y="807" width="3" height="2"/><text class="n" x="577" y="810.5">Amr_Amr01g02186</text></g>
<g id="t-Hapi6"><text class="b" x="565" y="814.5">0.0889</text><rect class="lf" x="565" y="815" width="3" height="2"/><text class="n" x="569" y="818.5">Hapi_Hapi6g01437</text></g>
<g id="t-Hapi1"><text class="b" x="570" y="823.5">0.00008</text><rect class="lf" x="570" y="824" width="3" height="2"/><text class="n" x="574" y="827.5">Hapi_Hapi1g01414</text></g>
<g id="t-Colu6b"><text class="b" x="625" y="831.5">0.0859</text><rect class="lf" x="625" y="832" width="3" height="2"/><text class="n" x="629" y="835.5">Colu_Colu6g02574</text></g>
<g id="t-Bial19"><text class="b" x="660" y="838.5">0.00006</text><rect class="lf" x="660" y="839" width="3" height="2"/><text class="n" x="664" y="842.5">Bial_Bial19g00212</text></g>
<g id="t-Bial6"><text class="b" x="660" y="846.5">0.00074</text><rect class="lf" x="660" y="847" width="3" height="2"/><text class="n" x="664" y="850.5">Bial_Bial6g00645</text></g>
<g id="t-Mimu15"><text class="b" x="580" y="854.5">0.0585</text><rect class="lf" x="580" y="855" width="3" height="2"/><text class="n" x="584" y="858.5">Mimu_Mimu15g01250</text></g>
<g id="t-Sira2a"><text class="b" x="636" y="862.5">0.00003</text><rect class="lf" x="636" y="863" width="3" height="2"/><text class="n" x="640" y="866.5">Sira_Sira2g01693</text></g>
<g id="t-Sira2b"><text class="b" x="636" y="870.5">0.00001</text><rect class="lf" x="636" y="871" width="3" height="2"/><text class="n" x="640" y="874.5">Sira_Sira2g01785</text></g>
<g id="t-Nesu49"><text class="b" x="596" y="878.5">0.0077</text><rect class="lf" x="596" y="879" width="3" height="2"/><text class="n" x="600" y="882.5">Nesu_Nesu100000027g01449</text></g>
<g id="t-Nesu50"><text class="b" x="596" y="886.5">0.0105</text><rect class="lf" x="596" y="887" width="3" height="2"/><text class="n" x="600" y="890.5">Nesu_Nesu100000027g01450</text></g>
<g id="t-Cpa"><text class="b" x="478" y="893.5">0.0498</text><rect class="lf" x="478" y="894" width="3" height="2"/><text class="n" x="482" y="897.5">Cpa_Cpa10000584g00083</text></g>
<g id="t-Sefy18b"><text class="b" x="481" y="902.5">0.056</text><rect class="lf" x="481" y="903" width="3" height="2"/><text class="n" x="485" y="906.5">Sefy_Sefy18g01485</text></g>
<g id="t-Pdy7"><text class="b" x="506" y="910.5">0.0684</text><rect class="lf" x="506" y="911" width="3" height="2"/><text class="n" x="510" y="914.5">Pdy_Pdy7g01461</text></g>
<g id="t-Nin5"><text class="b" x="638" y="917.5">0.212</text><rect class="lf" x="638" y="918" width="3" height="2"/><text class="n" x="642" y="921.5">Nin_Nin5g01701</text></g>
<g id="t-Pin14"><text class="b" x="525" y="925.5">0.0885</text><rect class="lf" x="525" y="926" width="3" height="2"/><text class="n" x="529" y="929.5">Pin_Pin14g00054</text></g>
<g id="t-Ecar15"><text class="b" x="491" y="932.5">0.0279</text><rect class="lf" x="491" y="933" width="3" height="2"/><text class="n" x="495" y="936.5">Ecar_Ecar15g00562</text></g>
<g id="t-Sain1b"><text class="b" x="526" y="940.5">0.0559</text><rect class="lf" x="526" y="941" width="3" height="2"/><text class="n" x="530" y="944.5">Sain_Sain1g02753</text></g>
<g id="t-Arla7"><text class="b" x="556" y="948.5">0.00072</text><rect class="lf" x="556" y="949" width="3" height="2"/><text class="n" x="560" y="952.5">Arla_Arla7g00814</text></g>
<g id="t-Armu6"><text class="b" x="556" y="956.5">0.00002</text><rect class="lf" x="556" y="957" width="3" height="2"/><text class="n" x="560" y="960.5">Armu_Armu6g00814</text></g>
</g>
</svg>
